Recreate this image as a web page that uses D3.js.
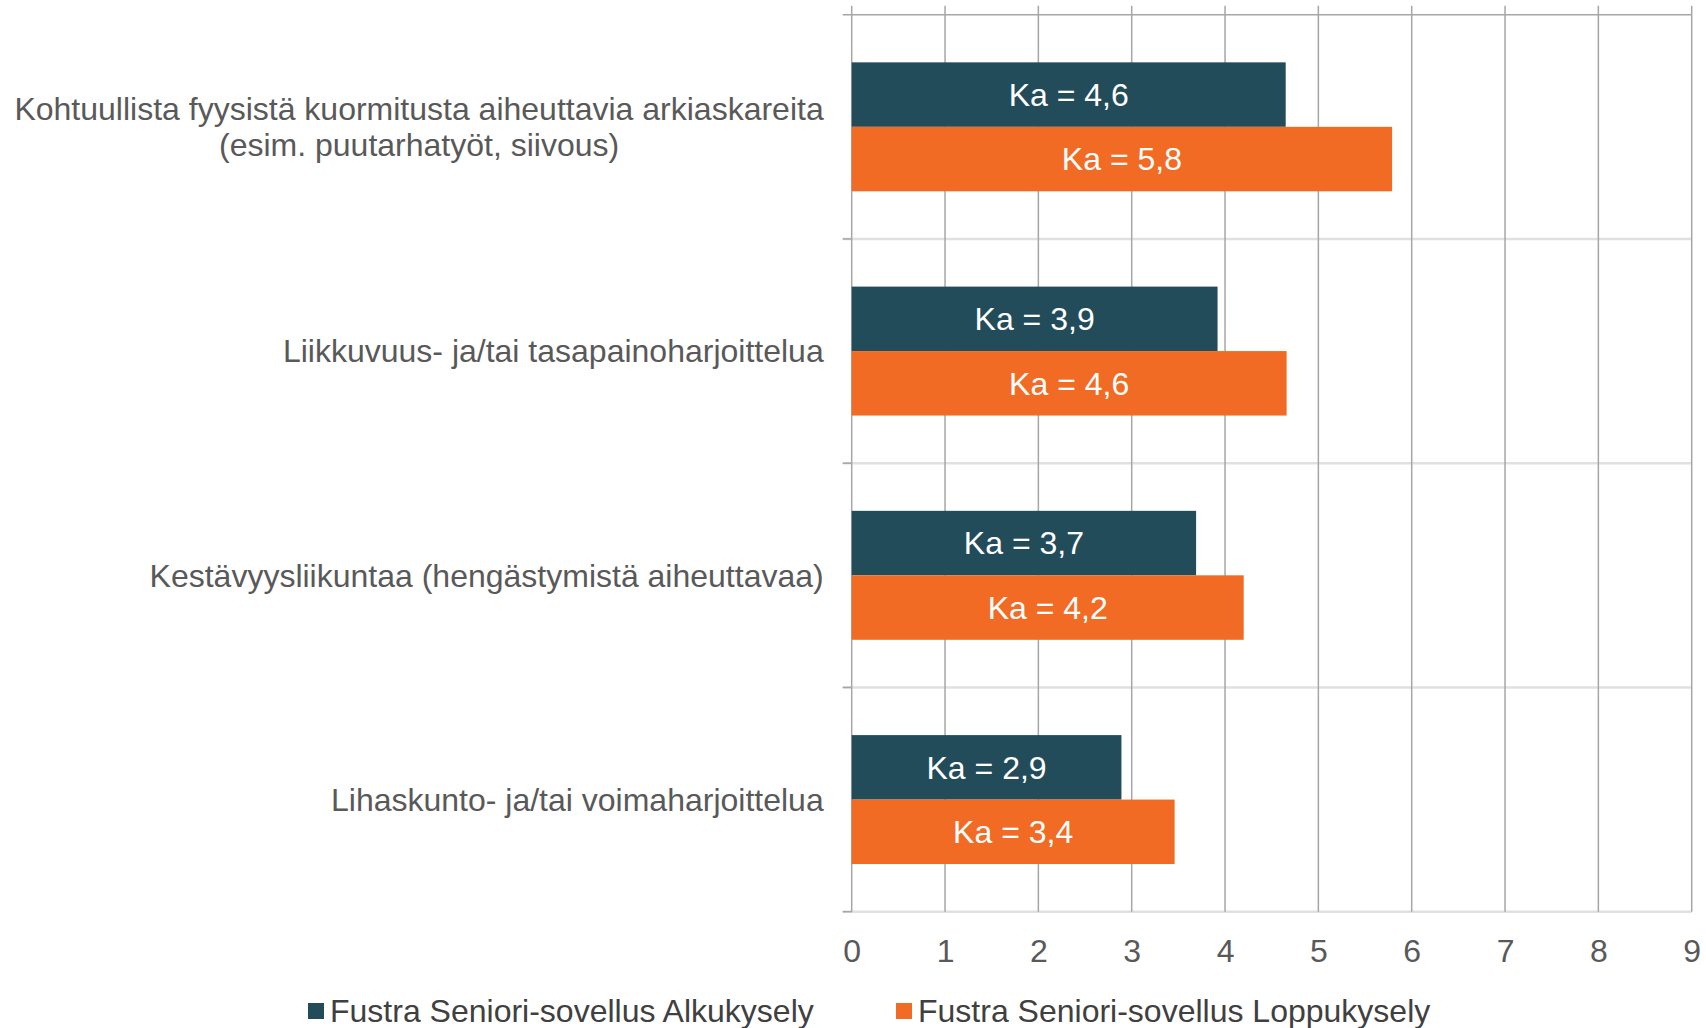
<!DOCTYPE html>
<html>
<head>
<meta charset="utf-8">
<script src="https://cdn.jsdelivr.net/npm/d3@7"></script>
<style>
	body { margin: 0; background: #fff; }
	text { font-family: "Liberation Sans", Arial, sans-serif; }
</style>
</head>
<body>
<div id="chart"></div>
<script>
// data
let categories = [
	["Kohtuullista fyysistä kuormitusta aiheuttavia arkiaskareita", "(esim. puutarhatyöt, siivous)"],
	["Liikkuvuus- ja/tai tasapainoharjoittelua"],
	["Kestävyysliikuntaa (hengästymistä aiheuttavaa)"],
	["Lihaskunto- ja/tai voimaharjoittelua"]
];
let seriesNames = ["Fustra Seniori-sovellus Alkukysely", "Fustra Seniori-sovellus Loppukysely"];
let alkuValues = [4.65, 3.92, 3.69, 2.89];
let loppuValues = [5.79, 4.66, 4.20, 3.46];
let alkuLabels = ["Ka = 4,6", "Ka = 3,9", "Ka = 3,7", "Ka = 2,9"];
let loppuLabels = ["Ka = 5,8", "Ka = 4,6", "Ka = 4,2", "Ka = 3,4"];
let xTicks = [0, 1, 2, 3, 4, 5, 6, 7, 8, 9];
let colors = ["#234C5B", "#F26B24"];

let panel = {
	width: 1706,
	height: 1028
};
let plot = { left: 851.7, right: 1691.7, top: 14.7, bottom: 911.7 };

let svg = d3.select("#chart")
	.append("svg")
	.attr("width", panel.width)
	.attr("height", panel.height);

let x = d3.scaleLinear()
	.domain([0, 9])
	.range([plot.left, plot.right]);

let y = d3.scaleBand()
	.domain(d3.range(categories.length))
	.range([plot.top, plot.bottom])
	.paddingInner(0.425)
	.paddingOuter(0.2125);

let ySeries = d3.scaleBand()
	.domain([0, 1])
	.range([0, y.bandwidth()]);

let step = y.step();

// horizontal category separators
let bounds = d3.range(categories.length + 1).map(i => plot.top + i * step);
svg.append("g")
	.selectAll("line")
	.data(bounds)
	.enter().append("line")
	.attr("x1", plot.left - 9)
	.attr("x2", plot.right)
	.attr("y1", (d) => { return d; })
	.attr("y2", (d) => { return d; })
	.attr("stroke", (d, i) => { return i === 0 ? "#a6a6a6" : "#e0e0e0"; })
	.attr("stroke-width", (d, i) => { return i === 0 ? 1.5 : 2.5; });

// small left ticks
svg.append("g")
	.selectAll("line")
	.data(bounds.slice(1))
	.enter().append("line")
	.attr("x1", plot.left - 9)
	.attr("x2", plot.left)
	.attr("y1", (d) => { return d; })
	.attr("y2", (d) => { return d; })
	.attr("stroke", "#a6a6a6")
	.attr("stroke-width", 1.5);

// vertical gridlines
svg.append("g")
	.selectAll("line")
	.data(xTicks)
	.enter().append("line")
	.attr("x1", (d) => { return x(d); })
	.attr("x2", (d) => { return x(d); })
	.attr("y1", plot.top - 9)
	.attr("y2", plot.bottom)
	.attr("stroke", "#a6a6a6")
	.attr("stroke-width", 1.5);

// x axis labels
let xAxis = d3.axisBottom(x)
	.tickValues(xTicks)
	.tickSize(0)
	.tickPadding(28)
	.tickFormat(d3.format("d"));
let gx = svg.append("g")
	.attr("transform", "translate(0," + plot.bottom + ")")
	.call(xAxis);
gx.select(".domain").remove();
gx.selectAll("text")
	.attr("font-family", "Liberation Sans, Arial, sans-serif")
	.attr("font-size", 32)
	.attr("fill", "#595959");

// category labels: block right aligned, lines centred on each other
let catLabels = svg.append("g")
	.selectAll("text")
	.data(categories)
	.enter().append("text")
	.attr("text-anchor", "middle")
	.attr("font-size", 32)
	.attr("fill", "#595959")
	.attr("transform", (d, i) => { return "translate(" + (plot.left - 28) + "," + (y(i) + y.bandwidth() / 2) + ")"; });
catLabels.selectAll("tspan")
	.data((d) => { return d; })
	.enter().append("tspan")
	.attr("y", (d, j, nodes) => { return (j - (nodes.length - 1) / 2) * 36; })
	.attr("dy", "0.35em")
	.text((d) => { return d; });
catLabels.each(function() {
	let spans = d3.select(this).selectAll("tspan");
	let widest = d3.max(spans.nodes(), (n) => { return n.getComputedTextLength(); });
	spans.attr("x", -widest / 2);
});

// bars
let series = [
	{ name: seriesNames[0], values: alkuValues, labels: alkuLabels, color: colors[0] },
	{ name: seriesNames[1], values: loppuValues, labels: loppuLabels, color: colors[1] }
];

series.forEach((s, si) => {
	let g = svg.append("g");
	g.selectAll("rect")
		.data(s.values)
		.enter().append("rect")
		.attr("x", x(0))
		.attr("y", (d, i) => { return y(i) + ySeries(si); })
		.attr("width", (d) => { return x(d) - x(0); })
		.attr("height", ySeries.bandwidth())
		.attr("fill", s.color);
	g.selectAll("text")
		.data(s.values)
		.enter().append("text")
		.attr("x", (d) => { return (x(0) + x(d)) / 2; })
		.attr("y", (d, i) => { return y(i) + ySeries(si) + ySeries.bandwidth() / 2; })
		.attr("dy", "0.35em")
		.attr("text-anchor", "middle")
		.attr("font-size", 32)
		.attr("fill", "#fff")
		.text((d, i) => { return s.labels[i]; });
});

// legend
let legendPos = [308, 896];
let legend = svg.append("g")
	.selectAll("g")
	.data(series)
	.enter().append("g")
	.attr("transform", (d, i) => { return "translate(" + legendPos[i] + ",1011)"; });
legend.append("rect")
	.attr("x", 0)
	.attr("y", -8)
	.attr("width", 16)
	.attr("height", 16)
	.attr("fill", (d) => { return d.color; });
legend.append("text")
	.attr("x", 22)
	.attr("dy", "0.35em")
	.attr("font-size", 32)
	.attr("fill", "#404040")
	.text((d) => { return d.name; });
</script>
</body>
</html>
